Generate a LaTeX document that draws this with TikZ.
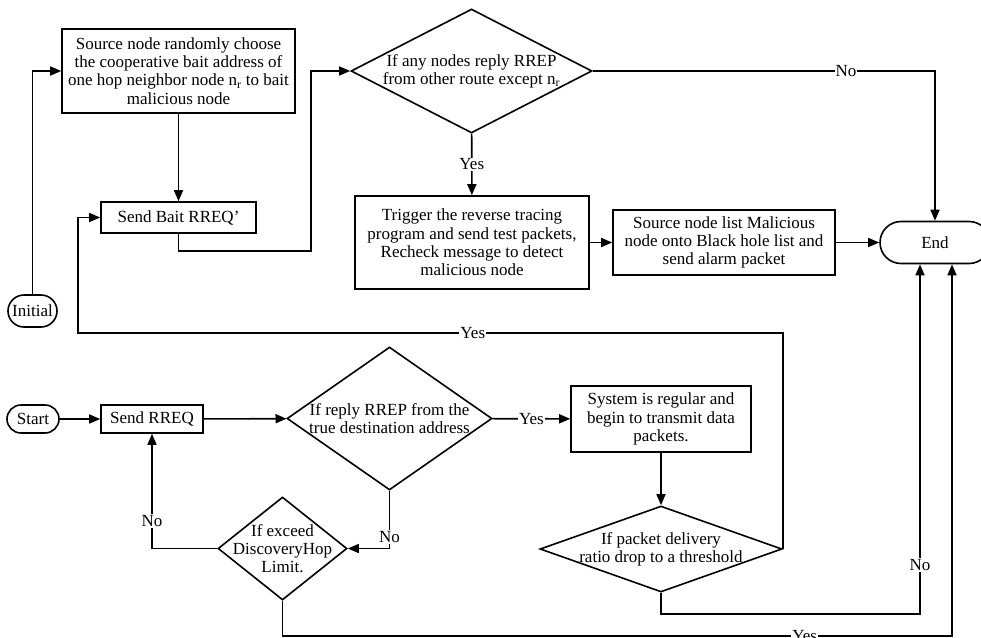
\documentclass[tikz,border=0pt]{standalone}
\usepackage{fontspec}
\setmainfont{Liberation Serif}
\usepackage{tikz}
\usetikzlibrary{arrows.meta,shapes.geometric,shapes.misc}

\begin{document}
\begin{tikzpicture}[x=1pt, y=-1pt,
                    line width=1.6pt,
                    every node/.style={font=\fontsize{17}{18.3}\selectfont},
                    box/.style n args={2}{rectangle,draw,align=center,
                    inner sep=0pt,
                    minimum width=#1pt,
                    minimum height=#2pt},
                    dec/.style n args={2}{diamond,draw,align=center,
                    inner sep=-20pt,aspect=2,
                    minimum width=#1pt,
                    minimum height=#2pt},
                    term/.style n args={2}{rounded rectangle,draw,
                    inner sep=0pt,
                    minimum width=#1pt,
                    minimum height=#2pt},
                    lbl/.style={fill=white,inner sep=1pt},
                    arr/.style={-{Triangle[length=11pt,width=9pt]}}]
    \useasboundingbox (0,0) rectangle (981,637);
    \node[term={49}{32}] (n000) at (32.5,311) {Initial};
    \node[box={233}{84}] (n001) at (178.5,71) {Source node randomly choose\\the cooperative bait address of\\one hop neighbor node n\textsubscript{r} to bait\\malicious node};
    \node[box={155}{31}] (n002) at (178.5,217.5) {Send Bait RREQ'};
    \node[dec={241}{124}] (n003) at (471.5,71) {If any nodes reply RREP\\from other route except n\textsubscript{r}};
    \node[box={234}{93}] (n004) at (472,242.5) {Trigger the reverse tracing\\program and send test packets,\\Recheck message to detect\\malicious node};
    \node[box={222}{65}] (n005) at (724,242.5) {Source node list Malicious\\node onto Black hole list and\\send alarm packet};
    \node[term={110}{42}] (n006) at (935,242.5) {End};
    \node[term={52}{28}] (n007) at (33,419) {Start};
    \node[box={102}{28}] (n008) at (152,419) {Send RREQ};
    \node[dec={205}{143}] (n009) at (389.5,418.5) {If reply RREP from the\\true destination address};
    \node[box={180}{66}] (n010) at (661,419) {System is regular and\\begin to transmit data\\packets.};
    \node[dec={242}{86}] (n011) at (661,549) {If packet delivery\\ratio drop to a threshold};
    \node[dec={129}{103}] (n012) at (282.5,548.5) {If exceed\\DiscoveryHop\\Limit.};

    \draw[arr] (n000.north) |- (n001.west);
    \draw[arr] (n001) -- (n002);
    \draw[arr] (n002.south) -- ++(0,17) -| ([xshift=-39pt]n003.west) -- (n003.west);
    \draw[arr] (n003.east) -| node[lbl,pos=0.37] {No} (n006.north);
    \draw[arr] (n003) -- node[lbl] {Yes} (n004);
    \draw[arr] (n004) -- (n005);
    \draw[arr] (n005) -- (n006);
    \draw[arr] (n011.east) -- ++(0,-216) -| node[lbl,pos=0.22] {Yes} ([xshift=-22pt]n002.west) -- (n002.west);
    \draw[arr] (n007) -- (n008);
    \draw[arr] (n008) -- (n009);
    \draw[arr] (n009) -- node[lbl] {Yes} (n010);
    \draw[arr] (n010) -- (n011);
    \draw[arr] (n009.south) |- node[lbl,pos=0.4] {No} (n012.east);
    \draw[arr] (n012.west) -| node[lbl,pos=0.62] {No} (n008.south);
    \draw[arr] (n011.south) -- ++(0,21) -| node[lbl,pos=0.57] {No} ([xshift=-15pt]n006.south);
    \draw[arr] (n012.south) -- ++(0,35) -| node[lbl,pos=0.39] {Yes} ([xshift=17pt]n006.south);
\end{tikzpicture}
\end{document}
